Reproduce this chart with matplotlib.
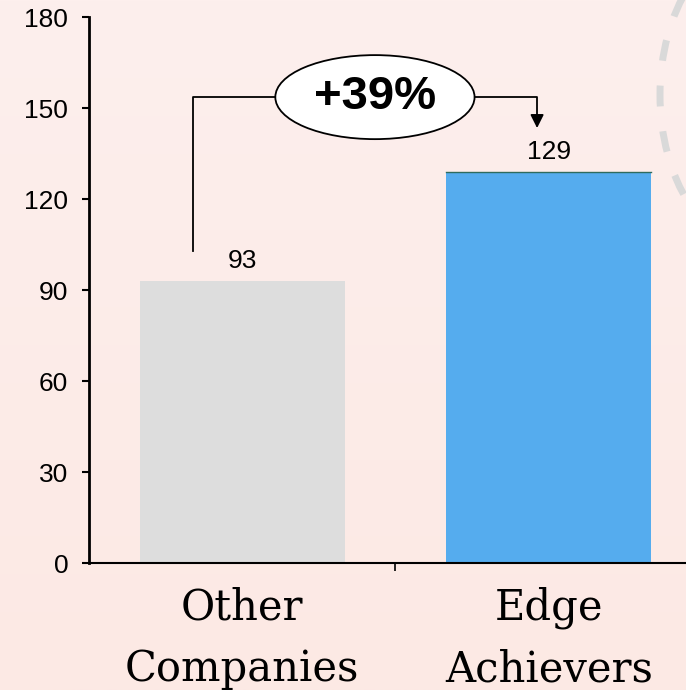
import numpy as np
import matplotlib.pyplot as plt
from matplotlib.colors import LinearSegmentedColormap
from matplotlib.patches import Ellipse

categories = ["Other\nCompanies", "Edge\nAchievers"]
values = [93, 129]
growth_label = "+39%"
bar_colors = ["#DDDDDD", "#55ACEE"]
yticks = [0, 30, 60, 90, 120, 150, 180]

BG_TOP = "#FDEFED"
BG_BOTTOM = "#FCE9E4"

fig = plt.figure(figsize=(6.86, 6.90), dpi=100, facecolor=BG_TOP)

# soft vertical gradient behind everything
bg_ax = fig.add_axes([0, 0, 1, 1], zorder=-10)
bg_ax.imshow(np.linspace(0, 1, 256).reshape(-1, 1), aspect="auto",
             cmap=LinearSegmentedColormap.from_list("bg", [BG_TOP, BG_BOTTOM]),
             extent=[0, 1, 0, 1])
bg_ax.axis("off")

ax = fig.add_axes([0.1297, 0.184, 0.8936, 0.7913])
ax.patch.set_alpha(0)

x = list(range(len(categories)))
bars = ax.bar(x, values, width=0.67, color=bar_colors, zorder=2)
# thin dark top edge on the blue bar
ax.plot([1 - 0.335, 1 + 0.335], [values[1], values[1]], color="#2E6B5E", lw=1, zorder=3)

for xi, v in zip(x, values):
    ax.text(xi, v + 2.5, str(v), ha="center", va="bottom", fontsize=19,
            family="Liberation Sans")

ax.set_xlim(-0.5, 1.5)
ax.set_ylim(0, 180)
ax.set_yticks(yticks)
ax.set_yticklabels([str(t) for t in yticks], fontsize=19, family="Liberation Sans")
ax.tick_params(axis="y", direction="out", length=5, width=1.5, pad=10)

ax.set_xticks(x)
ax.set_xticklabels(categories, fontsize=30, family="DejaVu Serif", linespacing=1.6)
ax.tick_params(axis="x", which="major", length=0, pad=17)
ax.set_xticks([0.5], minor=True)
ax.tick_params(axis="x", which="minor", direction="out", length=6, width=1.2)

for side in ["top", "right"]:
    ax.spines[side].set_visible(False)
ax.spines["left"].set_linewidth(2)
ax.spines["bottom"].set_linewidth(1.5)

# growth bracket
yb = 153.6
x_left, x_right = -0.16, 0.962
e_cx, e_w, e_h = 0.433, 0.65, 27.7
ax.plot([x_left, x_left, e_cx - e_w / 2], [103, yb, yb], color="black", lw=1.3,
        zorder=3, clip_on=False)
ax.annotate("", xy=(x_right, 143.4), xytext=(e_cx + e_w / 2, yb),
            arrowprops=dict(arrowstyle="-|>", color="black", lw=1.3,
                            connectionstyle="angle,angleA=0,angleB=90,rad=0",
                            mutation_scale=20, shrinkA=0, shrinkB=0))
ax.add_patch(Ellipse((e_cx, yb), e_w, e_h, facecolor="white", edgecolor="black",
                     lw=1.3, zorder=4, clip_on=False))
ax.text(e_cx, yb, growth_label, ha="center", va="center", fontsize=34,
        fontweight="bold", family="Liberation Sans", zorder=5)

# decorative dashed arc at the top right
arc = Ellipse((760 / 686, 1 - 95 / 690), 200 / 686, 308 / 690,
              transform=fig.transFigure, fill=False, edgecolor="#D9D9D9",
              lw=5, linestyle=(0, (3, 3.6)))
fig.patches.append(arc)

fig.savefig("out.png", dpi=100)
